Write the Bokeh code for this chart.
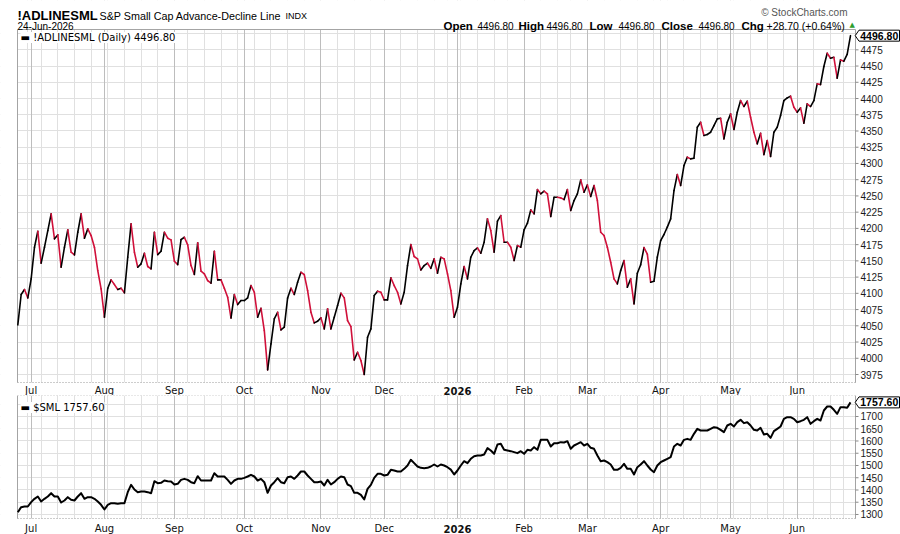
import numpy as np
import pandas as pd
from bokeh.plotting import figure
from bokeh.layouts import column
from bokeh.models import Range1d, FixedTicker, Grid
from bokeh.core.properties import value
from bokeh.embed import file_html
from bokeh.resources import INLINE

# NYSE holidays inside the window (trading sessions only on the x axis)
HOLIDAYS = ["2025-07-04", "2025-09-01", "2025-11-27", "2025-12-25", "2026-01-01",
            "2026-01-19", "2026-02-16", "2026-04-03", "2026-05-25", "2026-06-19"]
sessions = pd.bdate_range("2025-06-25", "2026-06-24", freq="C", holidays=HOLIDAYS)

# S&P Small Cap Advance-Decline Line, daily close
adline = [
    4051.4, 4098.2, 4105.9, 4093.0, 4122.3, 4171.0, 4195.7, 4146.4, 4171.0, 4196.7,
    4222.4, 4183.9, 4190.0, 4140.2, 4171.0, 4197.7, 4163.3, 4159.2, 4194.1, 4222.4,
    4184.9, 4199.3, 4189.0, 4171.0, 4135.1, 4106.9, 4063.2, 4107.9, 4120.7, 4113.5,
    4105.9, 4107.9, 4100.7, 4155.6, 4207.0, 4163.3, 4140.2, 4145.4, 4161.8, 4141.3,
    4137.7, 4194.1, 4159.7, 4164.9, 4194.1, 4184.9, 4182.3, 4149.5, 4144.3, 4182.8,
    4186.4, 4174.6, 4142.8, 4129.0, 4177.7, 4134.1, 4130.0, 4119.7, 4115.6, 4164.9,
    4120.7, 4120.7, 4107.9, 4094.0, 4062.0, 4098.2, 4082.7, 4088.9, 4088.9, 4093.0,
    4112.0, 4101.7, 4063.2, 4077.1, 4042.7, 3982.1, 4022.2, 4060.7, 4070.9, 4043.7,
    4047.9, 4093.0, 4107.9, 4098.2, 4117.1, 4132.5, 4128.9, 4104.3, 4070.9, 4054.5,
    4057.1, 4062.2, 4045.3, 4076.1, 4045.3, 4063.2, 4081.2, 4100.2, 4093.0, 4058.1,
    4048.9, 3997.5, 4009.3, 3996.5, 3975.0, 4032.4, 4045.3, 4096.6, 4103.3, 4101.7,
    4089.9, 4089.9, 4123.8, 4112.0, 4101.7, 4083.8, 4101.7, 4142.8, 4175.1, 4156.7,
    4153.1, 4136.1, 4142.8, 4146.4, 4138.5, 4153.1, 4131.0, 4155.6, 4153.1, 4129.9,
    4104.3, 4063.2, 4078.6, 4114.6, 4141.3, 4122.3, 4155.6, 4165.9, 4170.0, 4161.8,
    4178.7, 4214.7, 4196.7, 4163.3, 4211.1, 4219.8, 4178.7, 4178.7, 4171.0, 4150.5,
    4173.6, 4171.0, 4197.7, 4208.0, 4228.5, 4222.4, 4259.8, 4253.2, 4257.3, 4253.2,
    4218.3, 4248.0, 4248.0, 4247.0, 4244.4, 4259.8, 4227.5, 4242.9, 4253.2, 4274.7,
    4255.7, 4267.0, 4249.1, 4266.0, 4242.9, 4194.1, 4189.0, 4171.0, 4147.9, 4122.3,
    4114.6, 4135.1, 4150.5, 4109.4, 4122.3, 4083.8, 4131.0, 4144.0, 4170.5, 4160.3,
    4117.1, 4118.7, 4155.7, 4181.3, 4190.6, 4201.9, 4214.7, 4258.3, 4283.0, 4266.0,
    4296.8, 4309.7, 4307.1, 4308.1, 4355.8, 4363.5, 4343.0, 4344.6, 4348.1, 4358.4,
    4368.7, 4369.7, 4337.9, 4363.5, 4376.4, 4352.3, 4378.9, 4396.9, 4387.7, 4395.9,
    4371.2, 4348.1, 4330.2, 4346.6, 4313.7, 4335.3, 4310.7, 4348.1, 4355.8, 4373.8,
    4396.9, 4401.0, 4403.6, 4386.6, 4378.9, 4385.6, 4362.0, 4391.8, 4387.7, 4396.9,
    4422.6, 4421.5, 4449.3, 4469.8, 4462.1, 4463.6, 4431.3, 4459.5, 4457.5, 4468.1,
    4496.8,
]

# $SML, daily close
sml = [
    1309.4, 1329.9, 1332.6, 1332.6, 1350.3, 1363.9, 1373.4, 1353.0, 1363.9, 1373.4,
    1387.0, 1373.4, 1373.4, 1348.9, 1357.1, 1370.7, 1359.8, 1357.1, 1373.4, 1387.0,
    1363.9, 1370.7, 1370.7, 1363.9, 1353.0, 1339.4, 1320.3, 1339.4, 1346.2, 1346.2,
    1343.5, 1346.2, 1346.2, 1391.1, 1421.0, 1402.0, 1391.1, 1393.8, 1393.8, 1391.1,
    1387.0, 1436.0, 1427.8, 1429.2, 1438.7, 1436.0, 1434.6, 1422.4, 1425.1, 1441.4,
    1445.5, 1441.4, 1431.9, 1427.8, 1456.4, 1438.7, 1438.7, 1438.7, 1438.7, 1468.6,
    1455.0, 1455.0, 1455.0, 1441.4, 1425.1, 1438.7, 1445.5, 1445.5, 1449.6, 1455.0,
    1461.8, 1455.0, 1438.7, 1445.5, 1431.9, 1388.4, 1418.3, 1431.9, 1448.2, 1431.9,
    1427.8, 1452.3, 1455.0, 1445.5, 1459.1, 1475.4, 1475.4, 1459.1, 1445.5, 1431.9,
    1431.9, 1434.6, 1418.3, 1441.4, 1422.4, 1431.9, 1445.5, 1455.0, 1452.3, 1422.4,
    1415.6, 1388.4, 1388.4, 1380.2, 1361.2, 1404.7, 1421.0, 1449.6, 1465.9, 1465.9,
    1459.1, 1461.9, 1482.2, 1479.5, 1475.4, 1475.4, 1486.3, 1499.9, 1523.1, 1509.5,
    1495.9, 1490.4, 1489.1, 1490.4, 1495.9, 1504.0, 1495.9, 1504.0, 1499.9, 1493.1,
    1483.0, 1463.2, 1479.5, 1499.9, 1517.6, 1509.5, 1527.2, 1538.0, 1540.8, 1540.8,
    1544.8, 1570.7, 1561.2, 1547.6, 1585.7, 1588.4, 1563.9, 1561.2, 1558.5, 1554.4,
    1550.3, 1558.5, 1547.6, 1563.9, 1561.2, 1574.8, 1563.9, 1604.7, 1604.7, 1604.7,
    1577.5, 1591.1, 1591.1, 1595.2, 1593.8, 1599.3, 1568.0, 1581.6, 1588.4, 1595.2,
    1581.6, 1588.4, 1572.1, 1568.0, 1540.8, 1517.6, 1520.4, 1513.5, 1504.0, 1482.2,
    1482.2, 1490.4, 1506.7, 1486.3, 1486.3, 1463.2, 1493.1, 1504.0, 1517.6, 1500.0,
    1483.6, 1472.7, 1500.0, 1513.5, 1520.4, 1527.2, 1534.0, 1577.5, 1588.4, 1581.6,
    1604.7, 1608.8, 1604.7, 1629.2, 1649.6, 1642.8, 1642.8, 1642.8, 1649.6, 1656.4,
    1653.7, 1645.5, 1636.0, 1663.2, 1670.0, 1659.1, 1676.8, 1686.4, 1672.8, 1676.8,
    1663.2, 1645.5, 1642.8, 1653.7, 1626.5, 1629.2, 1612.9, 1640.1, 1649.6, 1659.1,
    1690.4, 1697.3, 1697.3, 1690.4, 1676.8, 1680.9, 1686.4, 1697.3, 1670.0, 1680.9,
    1690.4, 1683.6, 1724.5, 1740.8, 1740.8, 1727.2, 1710.8, 1738.1, 1738.1, 1735.3,
    1757.6,
]

ad_ticks = list(range(3975, 4476, 25))
ad_grid = list(range(3975, 4501, 25))
sml_ticks = list(range(1300, 1701, 50))
sml_grid = list(range(1300, 1751, 50))

ad_chg = 28.70
ad_chg_pct = 0.64

n = len(sessions)
idx = np.arange(n)

# month and week boundaries in session-index space
month_ticks = [i for i in range(1, n) if sessions[i].month != sessions[i - 1].month]
year_ticks = [i for i in month_ticks if sessions[i].month == 1]
plain_months = [i for i in month_ticks if i not in year_ticks]
week_ticks = [i for i in range(1, n)
              if sessions[i].weekday() < sessions[i - 1].weekday() and i not in month_ticks]

SANS = "Liberation Sans"
MONTH_FONT = "DejaVu Sans"
RED = "#d0103a"
GRID = "#e0e0e0"
MONTH_GRID = "#bdbdbd"
BORDER = "#a4a4a4"

# page geometry (pixels)
W = 900
H_UP, H_LO = 395, 139
HEAD = 29                   # title strip above the upper panel box
BAND_UP, BAND_LO = 13, 16   # month-label strips under each panel box
PX_L, PX_R = 17, 855        # panel box left/right edges

# x scale: session index, panel box spans IDX_L..IDX_R
IDX_L, IDX_R = -0.1, 251.5
ppx = (PX_R - PX_L) / (IDX_R - IDX_L)
xr = Range1d(IDX_L - PX_L / ppx, IDX_R + (W - PX_R) / ppx)

AD_TOP, AD_BOT = 4506.3, 3962.7
ad_ppv = (H_UP - HEAD - BAND_UP) / (AD_TOP - AD_BOT)
ad_yr = Range1d(AD_BOT - BAND_UP / ad_ppv, AD_TOP + HEAD / ad_ppv)

SML_TOP, SML_BOT = 1785.7, 1283.6
sml_ppv = (H_LO - BAND_LO) / (SML_TOP - SML_BOT)
sml_yr = Range1d(SML_BOT - BAND_LO / sml_ppv, SML_TOP)


def make_panel(height, yr):
    p = figure(width=W, height=height, x_range=xr, y_range=yr,
               x_axis_location=None, y_axis_location=None,
               output_backend="svg", toolbar_location=None, min_border=0)
    p.background_fill_color = "white"
    p.border_fill_color = "white"
    p.outline_line_color = None
    return p


def dress_panel(p, top, bot, yticks, ygrid, month_base, top_dash):
    y0, y1 = p.y_range.start, p.y_range.end
    p.xgrid.ticker = FixedTicker(ticks=week_ticks)
    p.xgrid.grid_line_color = GRID
    p.ygrid.ticker = FixedTicker(ticks=ygrid)
    p.ygrid.grid_line_color = GRID
    p.add_layout(Grid(dimension=0, ticker=FixedTicker(ticks=month_ticks),
                      grid_line_color=MONTH_GRID))

    # keep the grid inside the panel box
    x0, x1 = xr.start, xr.end
    p.quad(left=[x0, IDX_R, x0, x0], right=[IDX_L, x1, x1, x1],
           bottom=[y0, y0, y0, top], top=[y1, y1, bot, y1],
           fill_color="white", line_color=None)

    # box edges
    p.segment(x0=[IDX_L, IDX_R], y0=[bot, bot], x1=[IDX_L, IDX_R], y1=[top, top],
              line_color=BORDER, line_width=1)
    p.segment(x0=[IDX_L], y0=[top], x1=[IDX_R], y1=[top], line_color=BORDER,
              line_width=1, line_dash=top_dash)
    p.segment(x0=[IDX_L], y0=[bot], x1=[IDX_R], y1=[bot], line_color="#9a9a9a",
              line_width=1, line_dash="1 2")

    # value scale on the right
    p.ray(x=[IDX_R] * len(yticks), y=yticks, length=3, length_units="screen",
          angle=0, line_color="#8a8a8a", line_width=1)
    p.text(x=[IDX_R] * len(yticks), y=yticks, text=[str(t) for t in yticks],
           x_offset=5, text_baseline="middle", text_align="left",
           text_font=value(SANS), text_font_size="10px", text_color="#1a1a1a")

    # month labels under the box
    p.text(x=plain_months, y=[bot] * len(plain_months),
           text=[sessions[i].strftime("%b") for i in plain_months],
           y_offset=month_base, text_align="center", text_baseline="alphabetic",
           text_font=value(MONTH_FONT), text_font_size="10px", text_color="#111111")
    p.text(x=year_ticks, y=[bot] * len(year_ticks),
           text=[str(sessions[i].year) for i in year_ticks],
           y_offset=month_base, text_align="center", text_baseline="alphabetic",
           text_font=value(MONTH_FONT), text_font_size="10px", text_font_style="bold",
           text_color="#111111")


def value_tag(p, val, ppv):
    h = 5.5 / ppv
    tip = IDX_R - 0.3 / ppx
    bl = IDX_R + 3.5 / ppx
    br = IDX_R + 44.0 / ppx
    p.patch(x=[tip, bl, br, br, bl], y=[val, val + h, val + h, val - h, val - h],
            fill_color="white", line_color="black", line_width=1)
    p.text(x=[(bl + br) / 2], y=[val], text=[f"{val:.2f}"], text_align="center",
           text_baseline="middle", text_font=value(SANS), text_font_size="10.5px",
           text_font_style="bold", text_color="black")


def legend_text(p, top, base, label):
    p.text(x=[IDX_L], y=[top], text=[label], x_offset=3, y_offset=base,
           text_baseline="alphabetic", text_align="left",
           text_font=value(MONTH_FONT), text_font_size="10px", text_color="black",
           background_fill_color="white")


# ---- upper panel: advance-decline line with the title strip ----
up = make_panel(H_UP, ad_yr)
dress_panel(up, AD_TOP, AD_BOT, ad_ticks, ad_grid, 8, "solid")

ad = np.array(adline)
up.segment(x0=idx[:-1], y0=ad[:-1], x1=idx[1:], y1=ad[1:],
           color=["black" if b >= a else RED for a, b in zip(ad[:-1], ad[1:])],
           line_width=1.6, line_cap="round")

last = adline[-1]
legend_text(up, AD_TOP, 8, f"\u25ac !ADLINESML (Daily) {last:.2f}")
value_tag(up, last, ad_ppv)

# title strip, anchored at the top-left corner of the canvas
cx, cy = xr.start, ad_yr.end


def head(px, py, txt, size, style="normal", color="black", align="left", font=SANS):
    up.text(x=[cx], y=[cy], text=[txt], x_offset=px, y_offset=py,
            text_font=value(font), text_font_size=size, text_font_style=style,
            text_color=color, text_align=align, text_baseline="alphabetic")


head(17, 15, "!ADLINESML", "13px", "bold")
head(99, 15, "S&P Small Cap Advance-Decline Line", "10.75px")
head(285, 15, "INDX", "9px")
head(17, 26, sessions[-1].strftime("%d-%b-%Y"), "10px")
head(847, 12, "\u00a9 StockCharts.com", "10px", color="#555555", align="right")

quote_keys = ["Open", "High", "Low", "Close", "Chg"]
quote_vals = [f"{last:.2f}"] * 4 + [f"+{ad_chg:.2f} (+{ad_chg_pct:.2f}%)"]
for kx, k in zip([443, 518, 589, 661, 741], quote_keys):
    head(kx, 25, k, "11.5px", "bold")
for vx, v, fs in zip([477, 546, 618, 698, 766], quote_vals,
                     ["10px", "10px", "10px", "10px", "10.5px"]):
    head(vx, 25, v, fs)
head(849, 24, "\u25b2", "7px", color="#2f9e2f", font="DejaVu Sans")

# ---- lower panel: $SML ----
lo = make_panel(H_LO, sml_yr)
dress_panel(lo, SML_TOP, SML_BOT, sml_ticks, sml_grid, 10, "1 2")
lo.line(idx, sml, line_color="black", line_width=2, line_join="round")
legend_text(lo, SML_TOP, 12, f"\u25ac $SML {sml[-1]:.2f}")
value_tag(lo, sml[-1], sml_ppv)

page = column(up, lo, spacing=0)
open("out.html", "w").write(file_html(page, INLINE))
